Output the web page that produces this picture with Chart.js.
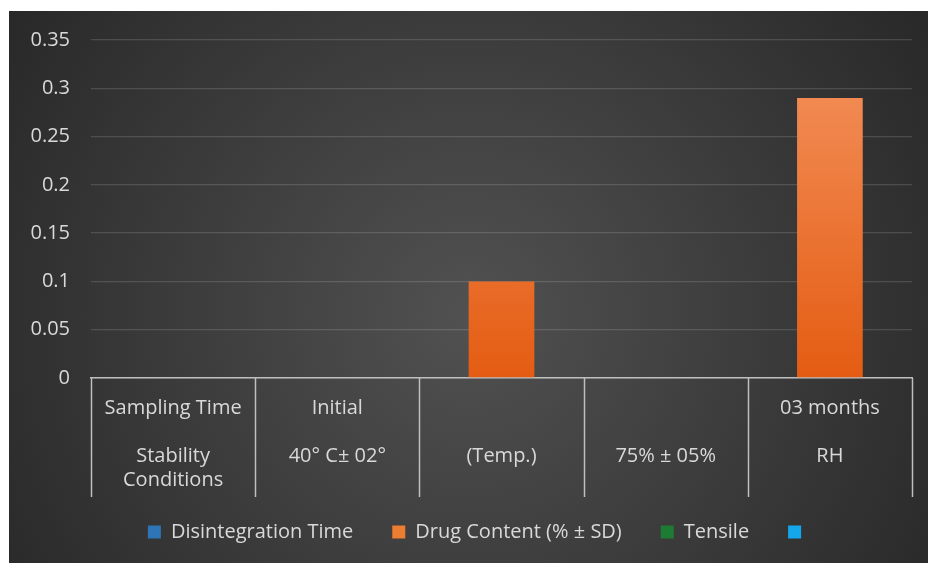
<!DOCTYPE html>
<html>
<head>
<meta charset="utf-8">
<script src="https://cdn.jsdelivr.net/npm/chart.js@4/dist/chart.umd.min.js"></script>
<style>
  html, body { margin: 0; padding: 0; background: #ffffff; }
  #wrap { position: absolute; left: 9px; top: 11px; width: 919px; height: 552px; }
</style>
</head>
<body>
<div id="wrap"><canvas id="chart"></canvas></div>
<script>
// Category rows of the two-level axis table
const timeRow = ["Sampling Time", "Initial", "", "", "03 months"];
const conditionRow = [["Stability", "Conditions"], ["40° C± 02°"], ["(Temp.)"], ["75% ± 05%"], ["RH"]];

// Series
const seriesNames = ["Disintegration Time", "Drug Content (% ± SD)", "Tensile", ""];
const disintegrationTime = [null, null, null, null, null];
const drugContent = [null, null, 0.1, null, 0.29];
const tensile = [null, null, null, null, null];
const unnamedSeries = [null, null, null, null, null];

// Value axis
const yTicks = [0, 0.05, 0.1, 0.15, 0.2, 0.25, 0.3, 0.35];

const labels = timeRow.map((t, i) => [t, ""].concat(conditionRow[i]));

const FONT = "'Open Sans', 'Liberation Sans', sans-serif";
const TEXT = "#d9d9d9";
const LEGEND_HEIGHT = 70;
const LEGEND_SHIFT_X = 19;
const LEGEND_SHIFT_Y = -10;

const backgroundPlugin = {
  id: "darkBackground",
  beforeDraw(chart) {
    const { ctx, width, height } = chart;
    const g = ctx.createRadialGradient(width * 0.5, height * 0.55, 0, width * 0.5, height * 0.55, width * 0.62);
    g.addColorStop(0, "#515151");
    g.addColorStop(1, "#272727");
    ctx.save();
    ctx.fillStyle = g;
    ctx.fillRect(0, 0, width, height);
    ctx.restore();
  }
};

// Fixed legend box height, nudged so the row sits just under the category table
const legendPlacementPlugin = {
  id: "legendPlacement",
  afterInit(chart) {
    const legend = chart.legend;
    if (!legend) return;
    const fit = legend.fit;
    legend.fit = function () {
      fit.call(this);
      this.height = LEGEND_HEIGHT;
    };
  },
  afterLayout(chart) {
    const legend = chart.legend;
    if (!legend) return;
    legend.left += LEGEND_SHIFT_X;
    legend.right += LEGEND_SHIFT_X;
    legend.top += LEGEND_SHIFT_Y;
    legend.bottom += LEGEND_SHIFT_Y;
  }
};

// Vertical dividers of the category table below the axis
const tableLinesPlugin = {
  id: "tableLines",
  afterDraw(chart) {
    const x = chart.scales.x;
    const n = x.getLabels().length;
    const step = x.getPixelForValue(1) - x.getPixelForValue(0);
    const top = x.top;
    const bottom = x.top + 119;
    const ctx = chart.ctx;
    ctx.save();
    ctx.strokeStyle = "#bfbfbf";
    ctx.lineWidth = 1.5;
    for (let i = 0; i <= n; i++) {
      const px = Math.round(x.getPixelForValue(i) - step / 2) + 0.5;
      ctx.beginPath();
      ctx.moveTo(px, top);
      ctx.lineTo(px, bottom);
      ctx.stroke();
    }
    ctx.restore();
  }
};

function barGradient(context) {
  const area = context.chart.chartArea;
  if (!area) return "#ed7d31";
  const g = context.chart.ctx.createLinearGradient(0, area.top, 0, area.bottom);
  g.addColorStop(0, "#f4935f");
  g.addColorStop(1, "#e45c12");
  return g;
}

const base = { grouped: false, categoryPercentage: 1, barPercentage: 0.4, borderWidth: 0 };

new Chart(document.getElementById("chart"), {
  type: "bar",
  data: {
    labels: labels,
    datasets: [
      Object.assign({ label: seriesNames[0], data: disintegrationTime, backgroundColor: "#2e75b6" }, base),
      Object.assign({ label: seriesNames[1], data: drugContent, backgroundColor: barGradient }, base),
      Object.assign({ label: seriesNames[2], data: tensile, backgroundColor: "#1e7b34" }, base),
      Object.assign({ label: seriesNames[3], data: unnamedSeries, backgroundColor: "#13a8ec" }, base)
    ]
  },
  options: {
    responsive: true,
    maintainAspectRatio: false,
    animation: false,
    layout: { padding: { left: 0, right: 16, top: 29, bottom: 0 } },
    plugins: {
      tooltip: { enabled: false },
      legend: {
        position: "bottom",
        labels: {
          color: TEXT,
          font: { family: FONT, size: 20 },
          boxWidth: 13,
          boxHeight: 13,
          padding: 39,
          generateLabels(chart) {
            return chart.data.datasets.map((ds, i) => ({
              text: ds.label,
              fillStyle: i === 1 ? "#ed7d31" : ds.backgroundColor,
              strokeStyle: "rgba(0,0,0,0)",
              lineWidth: 0,
              fontColor: TEXT,
              hidden: false,
              datasetIndex: i
            }));
          }
        }
      }
    },
    scales: {
      x: {
        grid: { display: true, drawOnChartArea: false, drawTicks: false },
        border: { display: true, color: "#bfbfbf", width: 1.5 },
        ticks: {
          color: TEXT,
          font: { family: FONT, size: 20, lineHeight: 1.2 },
          padding: 18,
          autoSkip: false,
          maxRotation: 0,
          minRotation: 0
        },
        afterFit(s) { s.height = 115; }
      },
      y: {
        min: 0,
        max: 0.35,
        afterBuildTicks(s) { s.ticks = yTicks.map(v => ({ value: v })); },
        grid: { color: "rgba(255,255,255,0.14)", lineWidth: 1.3, drawTicks: false },
        border: { display: false },
        ticks: {
          color: TEXT,
          font: { family: FONT, size: 20 },
          padding: 21,
          callback: v => String(+v.toFixed(2))
        },
        afterFit(s) {
          s.width = 82;
          s.paddingTop = 12;
          s.paddingBottom = 12;
        }
      }
    }
  },
  plugins: [backgroundPlugin, legendPlacementPlugin, tableLinesPlugin]
});
</script>
</body>
</html>
